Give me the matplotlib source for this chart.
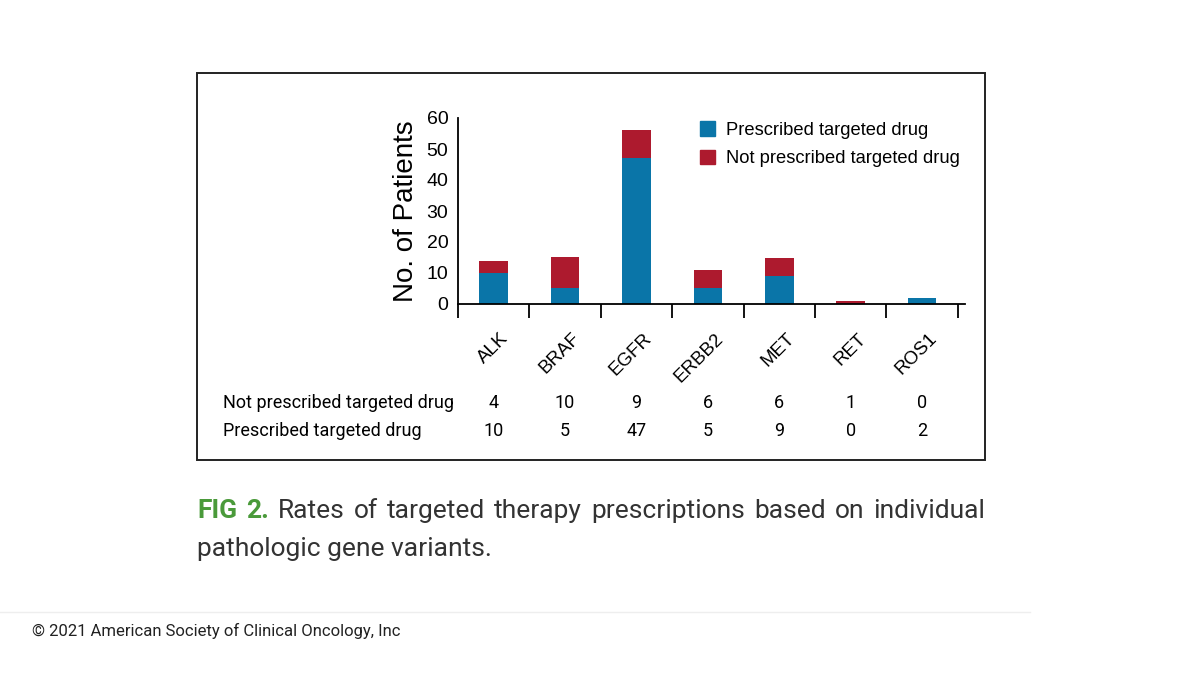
import matplotlib.pyplot as plt
from matplotlib.patches import Rectangle, Patch

plt.rcParams["font.family"] = ["Liberation Sans", "DejaVu Sans"]

genes = ["ALK", "BRAF", "EGFR", "ERBB2", "MET", "RET", "ROS1"]
prescribed = [10, 5, 47, 5, 9, 0, 2]
not_prescribed = [4, 10, 9, 6, 6, 1, 0]
row_labels = ["Not prescribed targeted drug", "Prescribed targeted drug"]

BLUE = "#0a75a8"
RED = "#ad1a2e"
GREEN = "#4a9a3a"

W, H = 1200, 675
fig = plt.figure(figsize=(12, 6.75), dpi=100)


def fx(px):
    return px / W


def fy(py):
    return 1 - py / H


# outer frame of the figure panel
fig.patches.append(Rectangle((fx(197), fy(460)), fx(985) - fx(197), fy(73) - fy(460),
                             transform=fig.transFigure, fill=False, lw=1.4, ec="#222222"))

ax = fig.add_axes([fx(458), fy(304), fx(965) - fx(458), fy(118) - fy(304)])
x = list(range(len(genes)))
ax.bar(x, prescribed, width=0.4, color=BLUE, label="Prescribed targeted drug")
ax.bar(x, not_prescribed, width=0.4, bottom=prescribed, color=RED,
       label="Not prescribed targeted drug")

ax.set_xlim(-0.5, 6.6)
ax.set_ylim(0, 60)
ax.set_yticks(range(0, 61, 10))
ax.tick_params(axis="y", length=0, labelsize=14, pad=7)
ax.set_xticks([i - 0.5 for i in range(len(genes) + 1)])
ax.set_xticklabels([])
ax.tick_params(axis="x", length=10, width=1.3, direction="out")
for s in ["top", "right"]:
    ax.spines[s].set_visible(False)
ax.spines["left"].set_linewidth(1.3)
ax.spines["bottom"].set_linewidth(1.3)
ax.set_ylabel("No. of Patients", fontsize=20, labelpad=5)

for i, g in enumerate(genes):
    ax.annotate(g, xy=(i, 0), xycoords=("data", "axes fraction"),
                xytext=(9, -23), textcoords="offset points",
                rotation=45, ha="right", va="center", rotation_mode="anchor",
                fontsize=13.5)

handles = [Patch(color=BLUE), Patch(color=RED)]
ax.legend(handles, ["Prescribed targeted drug", "Not prescribed targeted drug"],
          loc="upper left", bbox_to_anchor=(0.445, 1.07), frameon=False,
          fontsize=13.2, handlelength=0.8, handleheight=0.8, labelspacing=0.6,
          handletextpad=0.6)

# data table under the chart
tab_font = ["Roboto", "DejaVu Sans"]
for row, vals, py in [(row_labels[0], not_prescribed, 403), (row_labels[1], prescribed, 431)]:
    fig.text(fx(223), fy(py), row, fontsize=13, va="center", ha="left", family=tab_font)
    for i, v in enumerate(vals):
        xd = ax.transData.transform((i, 0))[0] / W
        fig.text(xd, fy(py), str(v), fontsize=13, va="center", ha="center",
                 family=tab_font)

# caption, first line justified across the frame width
cap_font = ["Roboto", "DejaVu Sans"]
cap_size = 19
words = [("FIG", GREEN, "bold"), ("2.", GREEN, "bold")] + [
    (w, "#333333", "normal")
    for w in "Rates of targeted therapy prescriptions based on individual".split()]
renderer = fig.canvas.get_renderer()
texts = []
total = 0
for w, c, wt in words:
    t = fig.text(0, fy(511), w, fontsize=cap_size, color=c, fontweight=wt,
                 va="center", ha="left", family=cap_font)
    wpx = t.get_window_extent(renderer).width
    texts.append((t, wpx))
    total += wpx
gap = (985 - 197 - total) / (len(words) - 1)
cur = 197
for t, wpx in texts:
    t.set_x(fx(cur))
    cur += wpx + gap
fig.text(fx(197), fy(549), "pathologic gene variants.", fontsize=cap_size, color="#333333",
         va="center", ha="left", family=cap_font)

fig.add_artist(plt.Line2D([0, fx(1030)], [fy(612), fy(612)], color="#eeeeee", lw=1))
fig.text(fx(32), fy(631), "\u00a9 2021 American Society of Clinical Oncology, Inc",
         fontsize=12, color="#222222", va="center", ha="left", family=cap_font)

fig.savefig("out.png", dpi=100)
